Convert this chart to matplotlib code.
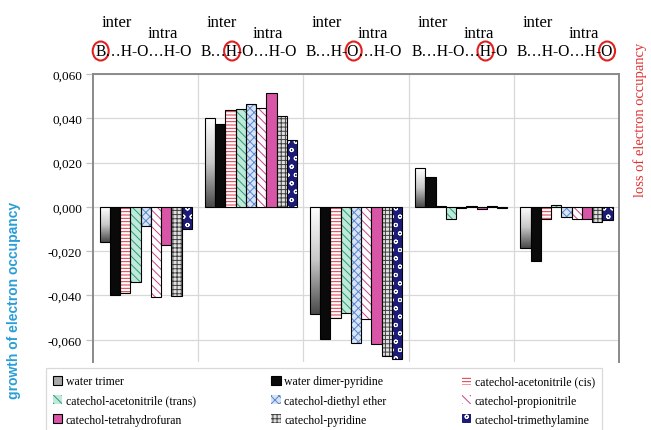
import matplotlib
matplotlib.use('Agg')
import matplotlib.pyplot as plt
import matplotlib.patches as mpatches
from matplotlib.transforms import IdentityTransform
from matplotlib.ticker import FuncFormatter
import numpy as np

# bond sites (columns) and the circled atom in each formula
formula = 'B…H-O…H-O'
circled = [0, 2, 4, 6, 8]

series = ['water trimer', 'water dimer-pyridine', 'catechol-acetonitrile (cis)',
          'catechol-acetonitrile (trans)', 'catechol-diethyl ether', 'catechol-propionitrile',
          'catechol-tetrahydrofuran', 'catechol-pyridine', 'catechol-trimethylamine']

water_trimer = [-0.0158, 0.0403, -0.0484, 0.0174, -0.0187]
water_dimer_pyridine = [-0.0397, 0.0374, -0.0598, 0.0135, -0.0244]
acetonitrile_cis = [-0.0390, 0.0438, -0.0500, 0.0002, -0.0054]
acetonitrile_trans = [-0.0338, 0.0442, -0.0480, -0.0056, 0.0010]
diethyl_ether = [-0.0086, 0.0465, -0.0614, -0.0006, -0.0047]
propionitrile = [-0.0406, 0.0447, -0.0506, 0.0004, -0.0055]
tetrahydrofuran = [-0.0170, 0.0515, -0.0620, -0.0008, -0.0053]
pyridine = [-0.0401, 0.0412, -0.0672, 0.0003, -0.0068]
trimethylamine = [-0.0102, 0.0302, -0.0686, -0.0004, -0.0060]

values = [water_trimer, water_dimer_pyridine, acetonitrile_cis, acetonitrile_trans,
          diethyl_ether, propionitrile, tetrahydrofuran, pyridine, trimethylamine]

# (face, hatch, hatch colour) per series; None face = gradient
styles = [(None, None, None),
          ('#0a0a0a', None, None),
          ('white', '-----', '#e03040'),
          ('#bfead8', '\\\\\\\\', '#2a9a80'),
          ('#d5e4f7', 'xxxx', '#5f86c8'),
          ('white', '\\\\\\\\', '#c8408a'),
          ('#d855a8', None, None),
          ('#e0e0e0', '++++', '#404040'),
          ('#1c1c78', 'oo', 'white')]

plt.rcParams['hatch.linewidth'] = 0.7
serif = 'Liberation Serif'

fig = plt.figure(figsize=(6.51, 4.31), dpi=100)
ax = fig.add_axes([0.143, 0.158, 0.808, 0.668])

ngroups = len(water_trimer)
x = np.arange(ngroups)
width = 0.0975
legend_handles = []
for i, (name, vals) in enumerate(zip(series, values)):
    pos = x - 4 * width + i * width
    face, hatch, hcol = styles[i]
    if face is None:
        bars = ax.bar(pos, vals, width, facecolor='none', edgecolor='black', linewidth=0.8, zorder=3)
        grad = np.linspace(0, 1, 100).reshape(-1, 1)
        for b in bars:
            x0 = b.get_x()
            y0 = min(0, b.get_height())
            y1 = max(0, b.get_height())
            im = ax.imshow(grad, cmap=matplotlib.colors.LinearSegmentedColormap.from_list(
                'g', ['#ffffff', '#c8c8c8', '#4a4a4a']), aspect='auto',
                extent=(x0, x0 + width, y0, y1), origin='upper', zorder=2)
            im.set_clip_path(b)
        legend_handles.append(mpatches.Patch(facecolor='#a8a8a8', edgecolor='black', linewidth=0.8))
    elif hatch is None:
        ax.bar(pos, vals, width, color=face, edgecolor='black', linewidth=0.8, zorder=3)
        legend_handles.append(mpatches.Patch(facecolor=face, edgecolor='black', linewidth=0.8))
    else:
        ax.bar(pos, vals, width, color=face, edgecolor=hcol, hatch=hatch, linewidth=0, zorder=2)
        ax.bar(pos, vals, width, fill=False, edgecolor='black', linewidth=0.8, zorder=3)
        legend_handles.append(mpatches.Patch(facecolor=face, edgecolor=hcol, hatch=hatch, linewidth=0))

ax.set_xlim(-0.5, ngroups - 0.5)
ax.set_ylim(-0.070, 0.060)
ax.set_yticks(np.arange(-0.06, 0.061, 0.02))
ax.yaxis.set_major_formatter(FuncFormatter(lambda v, p: ('%.3f' % v).replace('.', ',').replace('-0,000', '0,000')))
ax.set_xticks([])
ax.set_xticks(np.arange(0.5, ngroups - 0.5), minor=True)
ax.tick_params(axis='x', which='minor', length=0)
ax.grid(axis='y', color='#d8d8d8', linewidth=0.9, zorder=0)
ax.grid(axis='x', which='minor', color='#d8d8d8', linewidth=0.9, zorder=0)
ax.set_axisbelow(True)
ax.tick_params(axis='y', length=5, color='#c0c0c0', width=0.9, labelsize=9.5, pad=3)
for lab in ax.get_yticklabels():
    lab.set_family(serif)
for s in ['left', 'right', 'top']:
    ax.spines[s].set_color('#8a8a8a')
    ax.spines[s].set_linewidth(1.4)
ax.spines['bottom'].set_visible(False)

# labels above each group
fsize = 11.2
fmt_texts = []
for i in range(ngroups):
    xf = ax.transData.transform((x[i], 0))[0] / fig.dpi / 6.51
    fig.text(xf - 29 / 651, 1 - 23 / 431, 'inter', ha='center', va='center', family=serif, fontsize=12)
    fig.text(xf + 17 / 651, 1 - 34 / 431, 'intra', ha='center', va='center', family=serif, fontsize=12)
    t = fig.text(xf - 2 / 651, 1 - 52 / 431, formula, ha='center', va='center', family=serif, fontsize=fsize)
    fmt_texts.append(t)

fig.text(0.022, 1 - 300 / 431, 'growth of electron occupancy', rotation=90, ha='center', va='center',
         color='#2a9ed8', fontsize=10, fontweight='bold', family='Liberation Sans')
fig.text(0.984, 1 - 120 / 431, 'loss of electron occupancy', rotation=90, ha='center', va='center',
         color='#e03030', fontsize=10.5, family=serif)

# legend: 3 columns filled row-wise
order = [0, 3, 6, 1, 4, 7, 2, 5, 8]
leg = fig.legend([legend_handles[k] for k in order], [series[k] for k in order], ncol=3,
                 loc='lower left', bbox_to_anchor=(0.061, -0.02, 0.873, 0.175), mode='expand',
                 prop={'family': serif, 'size': 8.5}, frameon=True, fancybox=False,
                 handlelength=0.8, handleheight=0.8, handletextpad=0.3, labelspacing=0.6,
                 borderpad=0.6, columnspacing=1.0)
leg.get_frame().set_edgecolor('#d0d0d0')
leg.get_frame().set_linewidth(0.9)

# red circles round the atom in each formula
fig.canvas.draw()
r = fig.canvas.get_renderer()
for t, k in zip(fmt_texts, circled):
    bb = t.get_window_extent(r)
    tmp = fig.text(0, 0, formula[:k], family=serif, fontsize=fsize)
    w0 = tmp.get_window_extent(r).width if k > 0 else 0
    tmp.set_text(formula[k])
    wc = tmp.get_window_extent(r).width
    tmp.remove()
    cx = bb.x0 + w0 + wc / 2
    cy = (bb.y0 + bb.y1) / 2
    fig.add_artist(mpatches.Ellipse((cx, cy), 16, 19, transform=IdentityTransform(),
                                    fill=False, edgecolor='#e02020', linewidth=1.5))

plt.savefig('out.png', dpi=100)
plt.close()
